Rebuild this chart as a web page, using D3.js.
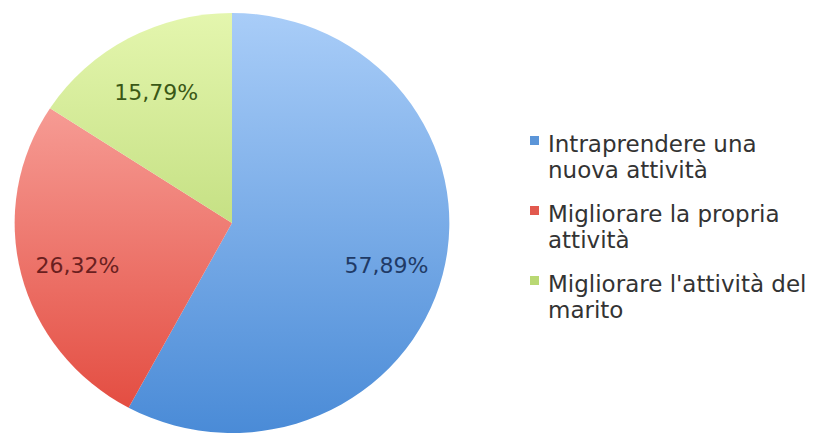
<!DOCTYPE html>
<html>
<head>
<meta charset="utf-8">
<script src="https://cdn.jsdelivr.net/npm/d3@7"></script>
<style>
  html, body { margin: 0; padding: 0; background: #ffffff; }
  svg { display: block; }
  text { font-family: "DejaVu Sans", Verdana, sans-serif; }
</style>
</head>
<body>
<svg id="chart" width="817" height="437"></svg>
<script>
// Obiettivi del finanziamento (percentuali)
const categories = [
  "Intraprendere una nuova attività",
  "Migliorare la propria attività",
  "Migliorare l'attività del marito"
];
const values = [57.89, 26.32, 15.79];
const valueLabels = ["57,89%", "26,32%", "15,79%"];
// Legend entries split across two lines
const legendLines = [
  ["Intraprendere una", "nuova attività"],
  ["Migliorare la propria", "attività"],
  ["Migliorare l'attività del", "marito"]
];
// Slice gradients: light top, saturated bottom; label ink colours
const gradTop    = ["#a9cdf8", "#fcb4ae", "#e4f6ae"];
const gradBottom = ["#4a8bd7", "#e2473b", "#a7cb5a"];
const labelInk   = ["#1f3a66", "#6a1f1f", "#3a5816"];
const legendSwatch = ["#5b95d8", "#e2594e", "#b9d873"];

const svg = d3.select("#chart");
const cx = 232, cy = 223, R = 210, sx = 1.035;

const defs = svg.append("defs");
categories.forEach((c, i) => {
  const g = defs.append("linearGradient")
    .attr("id", "grad" + i)
    .attr("gradientUnits", "userSpaceOnUse")
    .attr("x1", 0).attr("y1", -R).attr("x2", 0).attr("y2", R);
  g.append("stop").attr("offset", "0%").attr("stop-color", gradTop[i]);
  g.append("stop").attr("offset", "100%").attr("stop-color", gradBottom[i]);
});

const pie = d3.pie().sort(null).value(d => d)(values);
const arc = d3.arc().innerRadius(0).outerRadius(R);
const labelArc = d3.arc().innerRadius(154).outerRadius(154);

const pieG = svg.append("g")
  .attr("transform", `translate(${cx},${cy}) scale(${sx},1)`);
pieG.selectAll("path")
  .data(pie)
  .join("path")
  .attr("d", arc)
  .attr("fill", (d, i) => `url(#grad${i})`);

svg.append("g")
  .selectAll("text")
  .data(pie)
  .join("text")
  .attr("x", d => cx + labelArc.centroid(d)[0] * sx)
  .attr("y", d => cy + labelArc.centroid(d)[1])
  .attr("dy", "0.55em")
  .attr("text-anchor", "middle")
  .attr("font-size", 22)
  .attr("fill", (d, i) => labelInk[i])
  .text((d, i) => valueLabels[i]);

// Legend
const legendY = d3.scalePoint().domain(categories).range([152, 292]);
const leg = svg.append("g");
const items = leg.selectAll("g")
  .data(categories)
  .join("g")
  .attr("transform", d => `translate(530,${legendY(d)})`);
items.append("rect")
  .attr("x", 0).attr("y", -16)
  .attr("width", 9).attr("height", 9)
  .attr("fill", (d, i) => legendSwatch[i]);
items.append("text")
  .attr("x", 18)
  .attr("font-size", 23)
  .attr("fill", "#333333")
  .selectAll("tspan")
  .data((d, i) => legendLines[i])
  .join("tspan")
  .attr("x", 18)
  .attr("dy", (t, j) => j === 0 ? 0 : 26)
  .text(t => t);
</script>
</body>
</html>
